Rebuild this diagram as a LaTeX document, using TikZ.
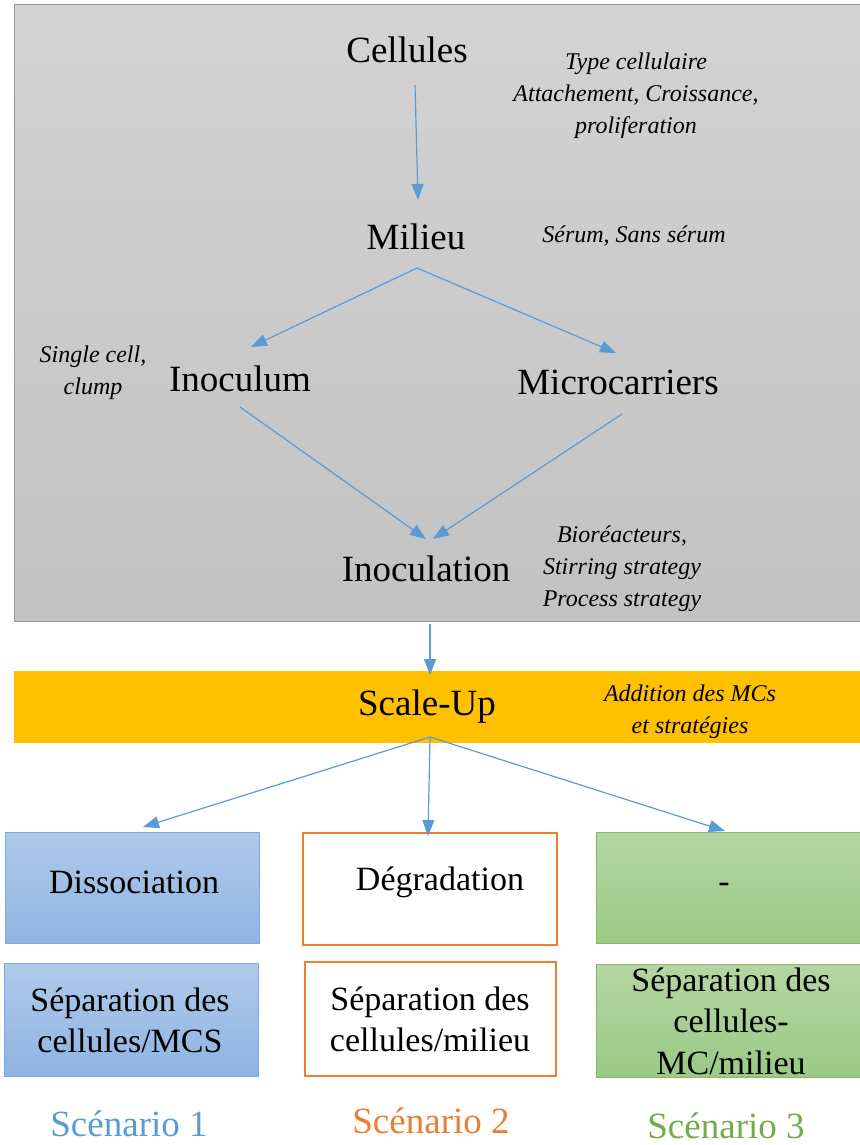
\documentclass[tikz,border=0pt]{standalone}
\usepackage{fontspec}
\setmainfont{LiberationSerif}[Extension=.ttf, UprightFont=*-Regular, ItalicFont=*-Italic, BoldFont=*-Bold, BoldItalicFont=*-BoldItalic]
\usetikzlibrary{arrows.meta}
\definecolor{arr}{HTML}{5B9BD5}
\definecolor{orbar}{HTML}{FFC000}
\definecolor{orln}{HTML}{ED7D31}
\definecolor{blT}{HTML}{AFCAEA}
\definecolor{blB}{HTML}{8EB4E2}
\definecolor{blL}{HTML}{7EA9DA}
\definecolor{grT}{HTML}{B5D6A3}
\definecolor{grB}{HTML}{9BC985}
\definecolor{grL}{HTML}{85BA6A}
\definecolor{grayT}{HTML}{D3D3D3}
\definecolor{grayB}{HTML}{C2C2C2}
\definecolor{sc1}{HTML}{5B9BD5}
\definecolor{sc2}{HTML}{ED7D31}
\definecolor{sc3}{HTML}{70AD47}
\tikzset{
  x=1pt, y=-1pt,
  big/.style={font=\fontsize{37}{44}\selectfont, inner sep=0pt},
  box/.style={font=\fontsize{34}{41}\selectfont, inner sep=0pt, align=center},
  note/.style={font=\fontsize{24}{32}\itshape\selectfont, inner sep=0pt, align=center},
  conn/.style={draw=arr, line width=1.2pt, -{Triangle[length=16pt,width=12pt]}},
}
\begin{document}
\begin{tikzpicture}
\useasboundingbox (0,0) rectangle (859,1145);
% gray panel
\shade[top color=grayT, bottom color=grayB, draw=gray!80, line width=1pt] (14,5) rectangle (862,621);
% orange bar
\fill[orbar] (14,671) rectangle (862,743);
% boxes
\shade[top color=blT, bottom color=blB, draw=blL, line width=1pt] (5.5,832) rectangle (259,943);
\draw[orln, line width=2pt, fill=white] (303,833) rectangle (557,945);
\shade[top color=grT, bottom color=grB, draw=grL, line width=1pt] (596,832) rectangle (862,943);
\shade[top color=blT, bottom color=blB, draw=blL, line width=1pt] (4,963) rectangle (258,1076);
\draw[orln, line width=2pt, fill=white] (305,962) rectangle (556,1076);
\shade[top color=grT, bottom color=grB, draw=grL, line width=1pt] (596,964) rectangle (862,1077);

% main labels
\node[big] (cel) at (407,50) {Cellules};
\node[big] (mil) at (416,237) {Milieu};
\node[big] (ino) at (240,379) {Inoculum};
\node[big] (mic) at (618,382) {Microcarriers};
\node[big] (inl) at (426,569) {Inoculation};
\node[big] (scu) at (427,707) {Scale-Up};

% notes
\node[note] (n1) at (636,96) {Type cellulaire\\Attachement, Croissance,\\proliferation};
\node[note] (n2) at (634,236) {Sérum, Sans sérum};
\node[note] (n3) at (93,373) {Single cell,\\clump};
\node[note] (n4) at (622,569) {Bioréacteurs,\\Stirring strategy\\Process strategy};
\node[note] (n5) at (690,712) {Addition des MCs\\et stratégies};

% box texts
\node[box] (b1) at (134,882) {Dissociation};
\node[box] (b2) at (440,882) {Dégradation};
\node[box] (b3) at (724,888) {-};
\node[box] (b4) at (130,1020) {Séparation des\\cellules/MCS};
\node[box] (b5) at (430,1019) {Séparation des\\cellules/milieu};
\node[box, font=\fontsize{34}{41.5}\selectfont] (b6) at (731,1021) {Séparation des\\cellules-\\MC/milieu};

% scenarios
\node[big, text=sc1] (s1) at (129,1124) {Scénario 1};
\node[big, text=sc2] (s2) at (431,1121) {Scénario 2};
\node[big, text=sc3] (s3) at (726,1126) {Scénario 3};

% connector points
\coordinate (c1s) at (415,85);
\coordinate (c1e) at (418,200);
\coordinate (mA) at (417,268);
\coordinate (mL) at (251,347);
\coordinate (mR) at (616,353);
\coordinate (iS) at (240,407);
\coordinate (iE) at (426,539);
\coordinate (mS) at (622,414);
\coordinate (mE) at (433,539);
\coordinate (gS) at (430,624);
\coordinate (gE) at (430,675);
\coordinate (sA) at (430,737);
\coordinate (sL) at (143,827);
\coordinate (sM) at (428,836);
\coordinate (sR) at (725,831);

\draw[conn] (c1s) -- (c1e);
\draw[conn] (mA) -- (mL);
\draw[conn] (mA) -- (mR);
\draw[conn] (iS) -- (iE);
\draw[conn] (mS) -- (mE);
\draw[conn] (gS) -- (gE);
\draw[conn] (sA) -- (sL);
\draw[conn] (sA) -- (sM);
\draw[conn] (sA) -- (sR);
\end{tikzpicture}
\end{document}
